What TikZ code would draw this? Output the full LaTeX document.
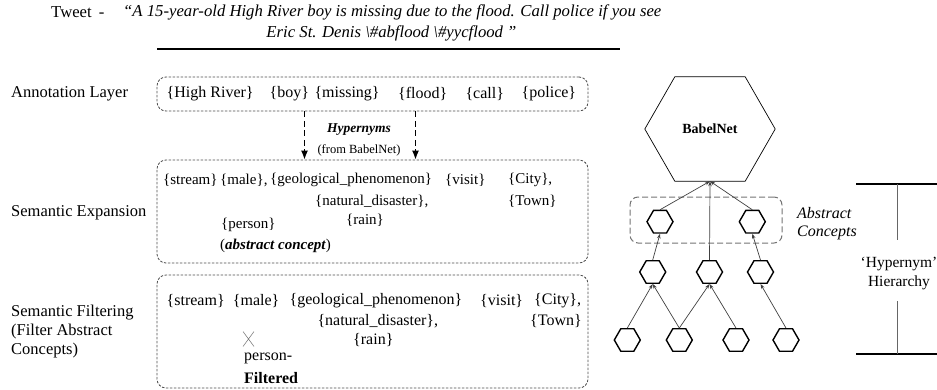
\documentclass[tikz,border=0pt]{standalone}
\usepackage{fontspec}
\setmainfont{Liberation Serif}
\usetikzlibrary{shapes.geometric,arrows.meta,calc}
\tikzset{
 lbl/.style={font=\fontsize{16.5}{19}\selectfont, inner sep=0pt, anchor=west, align=left},
 ftxt/.style={font=\fontsize{16}{19}\selectfont, inner sep=0pt, anchor=west},
 etxt/.style={font=\fontsize{15}{18}\selectfont, inner sep=0pt, anchor=west},
 twt/.style={font=\fontsize{16.7}{19}\selectfont\itshape, inner sep=0pt},
 dbox/.style={draw=black!70, dash pattern=on 2.5pt off 1.5pt, line width=0.8pt, rounded corners=9pt, minimum width=431pt, inner sep=0pt},
 hyp/.style={draw=black, line width=1.4pt, dash pattern=on 6pt off 3.5pt, -{Latex[length=9pt,width=7pt]}},
 hexa/.style={draw, shape=regular polygon, regular polygon sides=6, minimum size=26pt, inner sep=0pt, line width=1.4pt},
 garr/.style={draw=black!75, line width=0.7pt, -{Stealth[length=5pt,width=3.5pt]}},
 absbox/.style={draw=black!55, dash pattern=on 6pt off 3pt, line width=1pt, rounded corners=8pt, minimum width=152pt, minimum height=46pt, inner sep=0pt},
}
\begin{document}
\begin{tikzpicture}[x=1pt,y=-1pt]
\useasboundingbox (0,0) rectangle (937,389);
% tweet
\node[lbl, font=\fontsize{16.7}{19}\selectfont] (tw) at (51,12) {Tweet\hspace{7pt}-};
\node[twt, anchor=west] (tw1) at (123,12) {“A 15-year-old High River boy is missing due to the flood. Call police if you see};
\node[twt] (tw2) at (391.5,33) {Eric St. Denis \textbackslash\#abflood \textbackslash\#yycflood ”};
\coordinate (rl) at (157,49);
\coordinate (rr) at (620,49);
\draw[line width=2.2pt] (rl) -- (rr);
% labels
\node[lbl] (l1) at (11,94) {Annotation Layer};
\node[lbl] (l2) at (11,213) {Semantic Expansion};
\node[lbl] (l3) at (11,332) {Semantic Filtering\\(Filter Abstract\\Concepts)};
% boxes
\node[dbox, minimum height=34pt] (ann) at (372.5,94) {};
\node[dbox, minimum height=103pt] (exp) at (372.5,211.5) {};
\node[dbox, minimum height=113pt] (fil) at (372.5,331.5) {};
% annotation items
\node[ftxt] (a1) at (166.5,94) {\{High River\}};
\node[ftxt] (a2) at (269.4,94) {\{boy\}};
\node[ftxt] (a3) at (314.3,94) {\{missing\}};
\node[ftxt] (a4) at (398,94) {\{flood\}};
\node[ftxt] (a5) at (465.3,94) {\{call\}};
\node[ftxt] (a6) at (521.5,94) {\{police\}};
% hypernym arrows
\draw[hyp] ([xshift=-68pt]ann.south) -- ([xshift=-68pt]exp.north);
\draw[hyp] ([xshift=43pt]ann.south) -- ([xshift=43pt]exp.north);
\node[font=\fontsize{13.5}{16}\selectfont\bfseries\itshape, inner sep=0pt] (hy) at (359,130) {Hypernyms};
\node[font=\fontsize{12.5}{14}\selectfont, inner sep=0pt] (fb) at (359,150) {(from BabelNet)};
% expansion items
\node[etxt] (e1) at (163,180) {\{stream\}};
\node[etxt] (e2) at (220,180) {\{male\},};
\node[etxt] (e3) at (270,180) {\{geological\_phenomenon\}};
\node[etxt] (e4) at (445,180) {\{visit\}};
\node[etxt] (e5) at (508,180) {\{City\},};
\node[etxt] (e6) at (315,201) {\{natural\_disaster\},};
\node[etxt] (e7) at (508,201) {\{Town\}};
\node[etxt] (e8) at (346,220) {\{rain\}};
\node[etxt] (e9) at (221,225) {\{person\}};
\node[etxt] (e10) at (220,246) {(\textbf{\textit{abstract concept}})};
% filter items
\node[ftxt] (f1) at (166.5,301) {\{stream\}};
\node[ftxt] (f2) at (232.7,301) {\{male\}};
\node[ftxt] (f3) at (289.5,301) {\{geological\_phenomenon\}};
\node[ftxt] (f4) at (480,301) {\{visit\}};
\node[ftxt] (f5) at (534,301) {\{City\},};
\node[ftxt] (f6) at (317.3,321) {\{natural\_disaster\},};
\node[ftxt, anchor=east] (f7) at (582,321) {\{Town\}};
\node[ftxt] (f8) at (353,340) {\{rain\}};
\node[ftxt] (f9) at (244,358) {person-};
\node[ftxt] (f10) at (244,378) {\textbf{Filtered}};
\coordinate (xm) at (248.5,339);
\draw[black!50, line width=0.6pt] ($(xm)+(-5.5,-7.5)$) -- ($(xm)+(5.5,7.5)$) ($(xm)+(5.5,-7.5)$) -- ($(xm)+(-5.5,7.5)$);
% BabelNet
\node[minimum width=130pt, minimum height=104pt, inner sep=0pt, font=\fontsize{14}{16}\selectfont\bfseries] (bn) at (710,129) {BabelNet};
\draw[line width=0.7pt] ($(bn.north west)+(30,0)$) -- ($(bn.north east)+(-30,0)$) -- (bn.east) -- ($(bn.south east)+(-30,0)$) -- ($(bn.south west)+(30,0)$) -- (bn.west) -- cycle;
% abstract concepts box
\node[absbox] (ab) at (706,220) {};
\node[font=\fontsize{16}{18}\selectfont\itshape, align=left, anchor=west, inner sep=0pt] (abl) at (797,224) {Abstract\\Concepts};
% hexagons
\node[hexa] (ha1) at (660,221.7) {};
\node[hexa] (ha2) at (752.3,221.7) {};
\node[hexa] (hm1) at (652.7,272) {};
\node[hexa] (hm2) at (709.5,272) {};
\node[hexa] (hm3) at (760.5,272) {};
\node[hexa] (hb1) at (627.3,340) {};
\node[hexa] (hb2) at (679.3,340) {};
\node[hexa] (hb3) at (736,340) {};
\node[hexa] (hb4) at (786,340) {};
% arrows
\draw[garr] (hb1.north) -- (hm1.south);
\draw[garr] (hb2.north) -- (hm1.south);
\draw[garr] (hb2.north) -- (hm2.south);
\draw[garr] (hb3.north) -- (hm2.south);
\draw[garr] (hb4.north) -- (hm3.south);
\draw[garr] (hm1.north) -- (ha1.south);
\draw[garr] (hm3.north) -- (ha2.south);
\draw[garr] (hm2.north) -- (bn.south);
\draw[garr] (ha1.north) -- (bn.south);
\draw[garr] (ha2.north) -- (bn.south);
% hierarchy
\coordinate (hrtl) at (856,184);
\coordinate (hrtr) at (937,184);
\coordinate (hrbl) at (856,354);
\coordinate (hrbr) at (937,354);
\draw[line width=2.5pt] (hrtl) -- (hrtr);
\draw[line width=2.5pt] (hrbl) -- (hrbr);
\node[font=\fontsize{15.5}{19}\selectfont, align=center, inner sep=0pt] (hh) at (899,274) {‘Hypernym’\\Hierarchy};
\coordinate (vt) at (897,184);
\coordinate (vm1) at (897,240);
\coordinate (vm2) at (897,301);
\coordinate (vb) at (897,354);
\draw[black!60, line width=0.8pt] (vt) -- (vm1) (vm2) -- (vb);
\end{tikzpicture}
\end{document}
